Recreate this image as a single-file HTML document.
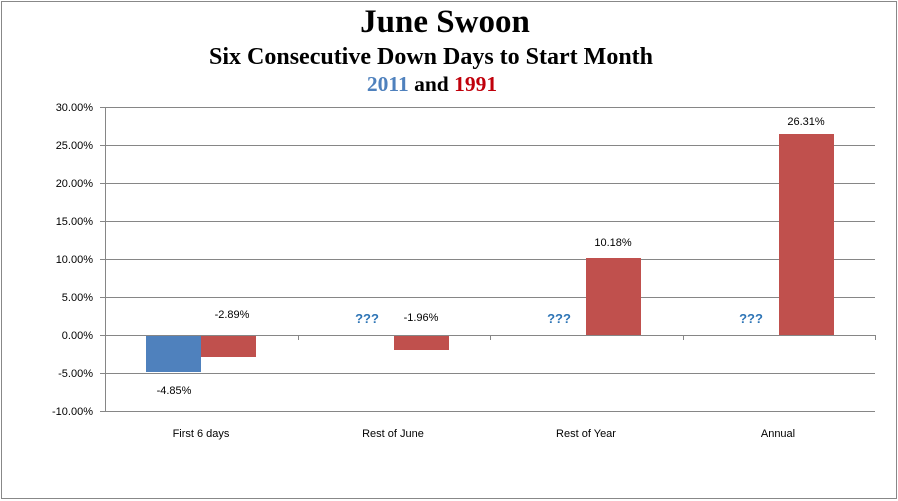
<!DOCTYPE html>
<html><head><style>body{margin:0;background:#fff}svg{display:block}</style></head><body>
<svg width="898" height="501" xmlns="http://www.w3.org/2000/svg" font-family="Liberation Sans, sans-serif">
<rect x="1.5" y="1.5" width="895" height="497" fill="#fff" stroke="#888"/>
<text x="445" y="32" text-anchor="middle" font-family="Liberation Serif, serif" font-weight="bold" font-size="33">June Swoon</text>
<text x="431" y="64" text-anchor="middle" font-family="Liberation Serif, serif" font-weight="bold" font-size="24">Six Consecutive Down Days to Start Month</text>
<text x="432" y="91" text-anchor="middle" font-family="Liberation Serif, serif" font-weight="bold" font-size="21.5"><tspan fill="#4f81bd">2011</tspan> and <tspan fill="#c0000b">1991</tspan></text>
<g stroke="#868686" stroke-width="1">
<line x1="105" y1="107.5" x2="875" y2="107.5"/>
<line x1="105" y1="145.5" x2="875" y2="145.5"/>
<line x1="105" y1="183.5" x2="875" y2="183.5"/>
<line x1="105" y1="221.5" x2="875" y2="221.5"/>
<line x1="105" y1="259.5" x2="875" y2="259.5"/>
<line x1="105" y1="297.5" x2="875" y2="297.5"/>
<line x1="105" y1="373.5" x2="875" y2="373.5"/>
<line x1="105" y1="411.5" x2="875" y2="411.5"/>
<line x1="105.5" y1="107" x2="105.5" y2="411"/>
<g>
<line x1="100" y1="107.5" x2="105" y2="107.5"/><line x1="100" y1="145.5" x2="105" y2="145.5"/><line x1="100" y1="183.5" x2="105" y2="183.5"/><line x1="100" y1="221.5" x2="105" y2="221.5"/><line x1="100" y1="259.5" x2="105" y2="259.5"/><line x1="100" y1="297.5" x2="105" y2="297.5"/><line x1="100" y1="335.5" x2="105" y2="335.5"/><line x1="100" y1="373.5" x2="105" y2="373.5"/><line x1="100" y1="411.5" x2="105" y2="411.5"/>
</g>
</g>
<g font-size="11" text-anchor="end" fill="#000">
<text x="93" y="111">30.00%</text><text x="93" y="149">25.00%</text><text x="93" y="187">20.00%</text><text x="93" y="225">15.00%</text><text x="93" y="263">10.00%</text><text x="93" y="301">5.00%</text><text x="93" y="339">0.00%</text><text x="93" y="377">-5.00%</text><text x="93" y="415">-10.00%</text>
</g>
<rect x="146" y="335" width="55" height="37" fill="#4f81bd"/>
<rect x="201" y="335" width="55" height="22" fill="#c0504d"/>
<rect x="394" y="335" width="55" height="15" fill="#c0504d"/>
<rect x="586" y="258" width="55" height="77" fill="#c0504d"/>
<rect x="779" y="134" width="55" height="201" fill="#c0504d"/>
<g stroke="#868686"><line x1="105" y1="335.5" x2="875" y2="335.5"/><line x1="298.5" y1="335" x2="298.5" y2="340"/><line x1="490.5" y1="335" x2="490.5" y2="340"/><line x1="683.5" y1="335" x2="683.5" y2="340"/><line x1="875.5" y1="335" x2="875.5" y2="340"/></g>
<g font-size="11" text-anchor="middle" fill="#000">
<text x="174" y="394">-4.85%</text>
<text x="232" y="318">-2.89%</text>
<text x="421" y="321">-1.96%</text>
<text x="613" y="246">10.18%</text>
<text x="806" y="125">26.31%</text>
<text x="201" y="437">First 6 days</text>
<text x="393" y="437">Rest of June</text>
<text x="586" y="437">Rest of Year</text>
<text x="778" y="437">Annual</text>
</g>
<g font-size="13" font-weight="bold" fill="#2e75b6" text-anchor="middle">
<text x="367" y="323">???</text><text x="559" y="323">???</text><text x="751" y="323">???</text>
</g>
</svg>
</body></html>
